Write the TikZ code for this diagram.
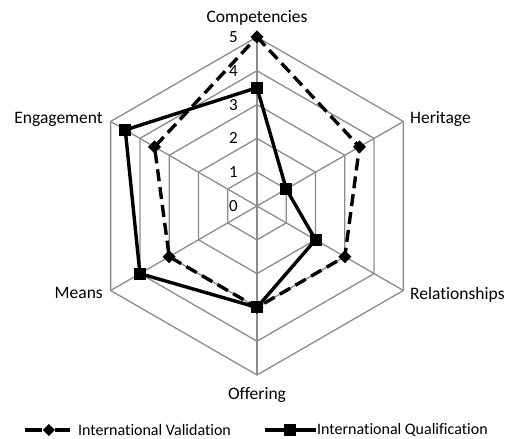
\documentclass[tikz,border=0pt]{standalone}
\usepackage{fontspec}
\setmainfont{Carlito}[Ligatures=NoCommon]
\begin{document}
\begin{tikzpicture}[x=1pt,y=1pt,
  grid/.style={draw=black!45,line width=1.3pt},
  ser/.style={draw=black,line width=3.4pt,line join=miter},
  valser/.style={ser,dash pattern=on 12pt off 6pt},
  smark/.style={fill=black,rectangle,minimum size=12pt,inner sep=0pt,draw=none},
  cat/.style={font=\fontsize{17.5}{20}\selectfont,inner sep=1pt},
  tick/.style={font=\fontsize{17}{20}\selectfont,anchor=east,inner sep=1pt},
  leg/.style={font=\fontsize{16}{19}\selectfont,anchor=west,inner sep=1pt}]
\useasboundingbox (-257,-233) rectangle (249,206);
\def\u{33.8}
% grid
\foreach \k in {1,...,5}{
  \draw[grid] (90:\k*\u) -- (30:\k*\u) -- (-30:\k*\u) -- (-90:\k*\u) -- (-150:\k*\u) -- (150:\k*\u) -- cycle;
}
\coordinate (O) at (0,0);
\foreach \a/\n in {90/c,30/h,-30/r,-90/o,-150/m,150/e}{
  \coordinate (g\n) at (\a:5*\u);
  \draw[grid] (O) -- (g\n);
}
% tick labels
\foreach \k in {0,...,5}{
  \node[tick] (t\k) at (-18,\k*\u) {\k};
}
% category labels
\node[cat] (lc) at (0,188) {Competencies};
\node[cat,anchor=west] (lh) at (152,87) {Heritage};
\node[cat,anchor=west] (lr) at (152,-89) {Relationships};
\node[cat] (lo) at (0,-189) {Offering};
\node[cat,anchor=east] (lm) at (-153,-87) {Means};
\node[cat,anchor=east] (le) at (-153,87) {Engagement};
% validation series
\coordinate (v1) at (90:5*\u);
\coordinate (v2) at (30:3.5*\u);
\coordinate (v3) at (-30:3*\u);
\coordinate (v4) at (-90:3*\u);
\coordinate (v5) at (-150:3*\u);
\coordinate (v6) at (150:3.5*\u);
\draw[valser] (v1) -- (v2) -- (v3) -- (v4) -- (v5) -- (v6) -- cycle;
% qualification series
\coordinate (q1) at (90:3.5*\u);
\coordinate (q2) at (30:1*\u);
\coordinate (q3) at (-30:2*\u);
\coordinate (q4) at (-90:3*\u);
\coordinate (q5) at (-150:4*\u);
\coordinate (q6) at (150:4.5*\u);
\draw[ser] (q1) -- (q2) -- (q3) -- (q4) -- (q5) -- (q6) -- cycle;
% markers
\foreach \i in {1,...,6}{
  \fill (v\i) ++(0,6.5) -- ++(6.5,-6.5) -- ++(-6.5,-6.5) -- ++(-6.5,6.5) -- cycle;
  \node[smark] (sq\i) at (q\i) {};
}
% legend
\coordinate (la1) at (-232,-224);
\coordinate (la2) at (-215,-224);
\coordinate (la3) at (-202,-224);
\coordinate (la4) at (-187,-224);
\draw[line width=4pt] (la1) -- (la2);
\draw[line width=4pt] (la3) -- (la4);
\fill (-208,-218) -- (-202,-224) -- (-208,-230) -- (-214,-224) -- cycle;
\node[leg] (lv) at (-180,-224) {International Validation};
\coordinate (lb1) at (8,-224);
\coordinate (lb2) at (59,-224);
\draw[line width=4pt] (lb1) -- (lb2);
\node[smark] (lsq) at (33,-224) {};
\node[leg] (lq) at (59,-224) {International Qualification};
\end{tikzpicture}
\end{document}
